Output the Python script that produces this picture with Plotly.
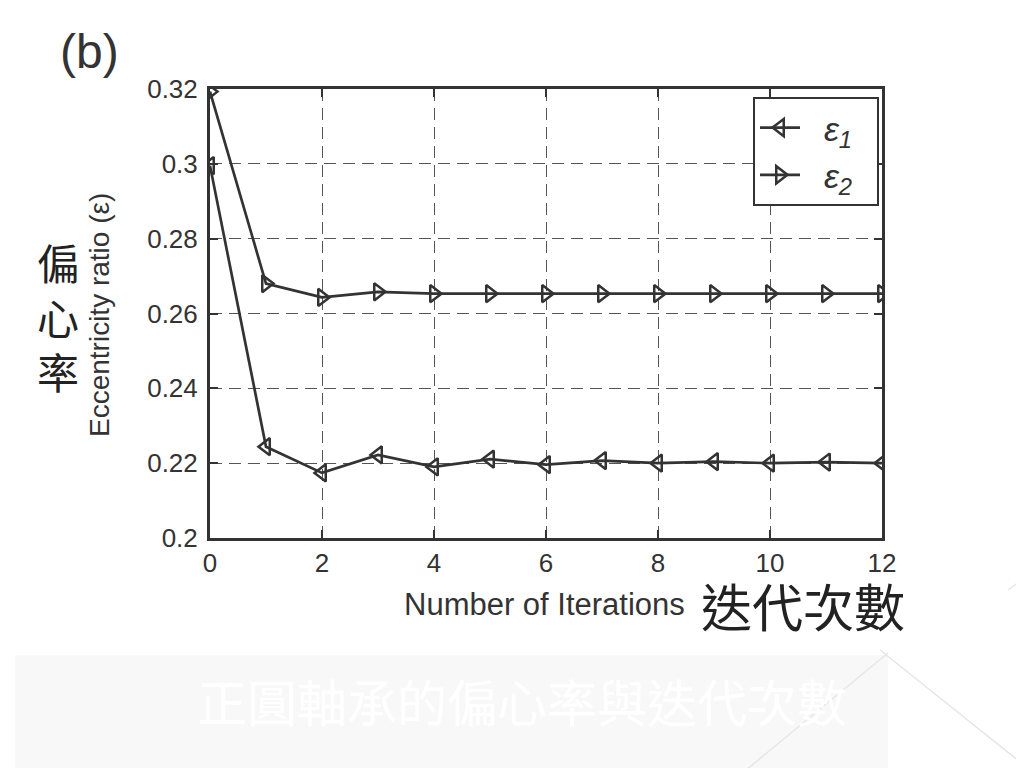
import plotly.graph_objects as go

iterations = list(range(0, 13))
eps1 = [0.2995, 0.2244, 0.2174, 0.2222, 0.2190, 0.2211, 0.2196, 0.2207, 0.2200, 0.2204, 0.2200, 0.2203, 0.2200]
eps2 = [0.3193, 0.2680, 0.2643, 0.2658, 0.2653, 0.2653, 0.2653, 0.2653, 0.2653, 0.2653, 0.2653, 0.2653, 0.2653]
x_ticks = [0, 2, 4, 6, 8, 10, 12]
y_ticks = [0.2, 0.22, 0.24, 0.26, 0.28, 0.3, 0.32]
y_tick_text = ["0.2", "0.22", "0.24", "0.26", "0.28", "0.3", "0.32"]

OFF = 8  # page body margin
W, H = 1024 - OFF, 768 - OFF
# plot area in reference (screen) pixels
L, R, T, B = 210, 882, 89, 538


def px(x):
    return (x - L) / (R - L)


def py(y):
    return (B - y) / (B - T)


INK = "#333333"
FONT = "Liberation Sans, Arial, sans-serif"
CJK = "Noto Sans CJK TC, sans-serif"

fig = go.Figure()
fig.add_trace(go.Scatter(
    x=iterations, y=eps1, mode="lines+markers",
    name="&nbsp;&nbsp;<i>ε</i><sub><i>1</i></sub>&nbsp;&nbsp;",
    line=dict(color=INK, width=2.7),
    marker=dict(symbol="triangle-left-open", size=15, color=INK, line=dict(width=2.5, color=INK)),
))
fig.add_trace(go.Scatter(
    x=iterations, y=eps2, mode="lines+markers",
    name="&nbsp;&nbsp;<i>ε</i><sub><i>2</i></sub>&nbsp;&nbsp;",
    line=dict(color=INK, width=2.7),
    marker=dict(symbol="triangle-right-open", size=15, color=INK, line=dict(width=2.5, color=INK)),
))

axis_common = dict(
    showline=True, linecolor=INK, linewidth=3, mirror="ticks",
    ticks="inside", ticklen=8, tickwidth=1.5, tickcolor=INK,
    showgrid=True, gridcolor="#555555", gridwidth=1.2, griddash="12px,7px",
    zeroline=False, tickfont=dict(family=FONT, size=26, color=INK),
)
fig.update_xaxes(range=[0, 12], tickvals=x_ticks, **axis_common)
fig.update_yaxes(range=[0.2, 0.32], tickvals=y_ticks, ticktext=y_tick_text, ticklabelstandoff=4,
                 **axis_common)

shapes = [
    dict(type="rect", xref="paper", yref="paper", x0=px(15), x1=px(888), y0=py(655), y1=py(775),
         fillcolor="#f8f8f8", line=dict(width=0), layer="below"),
    dict(type="line", xref="paper", yref="paper", x0=px(888), y0=py(653), x1=px(740), y1=py(775),
         line=dict(color="#e6e6e6", width=1.5)),
    dict(type="line", xref="paper", yref="paper", x0=px(880), y0=py(650), x1=px(1030), y1=py(770),
         line=dict(color="#e6e6e6", width=1.5)),
    dict(type="line", xref="paper", yref="paper", x0=px(1030), y0=py(574), x1=px(1008), y1=py(590),
         line=dict(color="#e6e6e6", width=1.5)),
]

annotations = [
    dict(text="(b)", x=px(89), y=py(52), xref="paper", yref="paper", showarrow=False,
         font=dict(family=FONT, size=48, color=INK), xanchor="center", yanchor="middle"),
    dict(text="Eccentricity ratio (ε)", x=px(99), y=py(315), xref="paper", yref="paper", showarrow=False,
         textangle=-90, font=dict(family=FONT, size=28, color=INK), xanchor="center", yanchor="middle"),
    dict(text="偏<br>心<br>率", x=px(58), y=py(316), xref="paper", yref="paper", showarrow=False,
         font=dict(family=CJK, size=42, color="#222222"), xanchor="center", yanchor="middle"),
    dict(text="Number of Iterations", x=px(544), y=py(604), xref="paper", yref="paper", showarrow=False,
         font=dict(family=FONT, size=31, color=INK), xanchor="center", yanchor="middle"),
    dict(text="迭代次數", x=px(803), y=py(605), xref="paper", yref="paper", showarrow=False,
         font=dict(family=CJK, size=51, color="#222222"), xanchor="center", yanchor="middle"),
    dict(text="正圓軸承的偏心率與迭代次數", x=px(522), y=py(700), xref="paper", yref="paper", showarrow=False,
         font=dict(family=CJK, size=50, color="#ffffff"), xanchor="center", yanchor="middle"),
]

fig.update_layout(
    width=W, height=H, autosize=False,
    margin=dict(l=L - OFF, r=1024 - R, t=T - OFF, b=768 - B, pad=0),
    paper_bgcolor="white", plot_bgcolor="white",
    showlegend=True,
    legend=dict(x=px(753), y=py(97), xanchor="left", yanchor="top",
                bgcolor="white", bordercolor=INK, borderwidth=2,
                font=dict(family=FONT, size=34, color=INK),
                itemwidth=40),
    shapes=shapes, annotations=annotations,
)

fig.write_html("out.html")
